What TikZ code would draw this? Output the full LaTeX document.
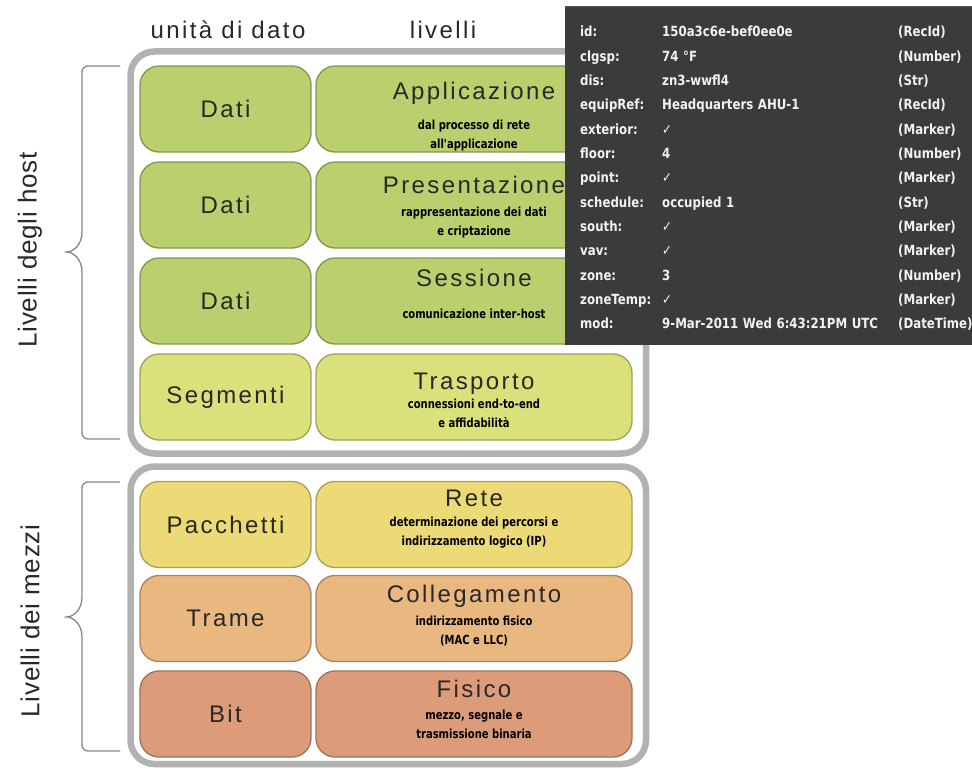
\documentclass[tikz,border=0pt]{standalone}
\usepackage{fontspec}
\setmainfont{Liberation Sans}
\newfontfamily\labelfont{Liberation Sans}[LetterSpace=10]
\newfontfamily\sidefont{Liberation Sans}[LetterSpace=3]
\newfontfamily\descfont{DejaVu Sans}[FakeStretch=0.8]
\newfontfamily\tipfont{DejaVu Sans}[FakeStretch=0.84]
\usepackage{xcolor}
\usepackage{tikz}
\usetikzlibrary{matrix}
\usetikzlibrary{positioning}

\definecolor{appgreen}{RGB}{186,207,110}
\definecolor{trgreen}{RGB}{219,225,122}
\definecolor{reteyellow}{RGB}{236,218,118}
\definecolor{collorange}{RGB}{233,183,128}
\definecolor{fisorange}{RGB}{221,156,121}
\definecolor{framegray}{RGB}{178,178,178}
\definecolor{bracegray}{RGB}{135,135,135}
\definecolor{inkgray}{RGB}{40,40,40}
\definecolor{tipbg}{RGB}{59,59,59}
\definecolor{tiptext}{RGB}{242,242,242}

\begin{document}
\begin{tikzpicture}[x=1pt,y=-1pt,
  layerframe/.style={draw=framegray,line width=6.5pt,rounded corners=24pt,fill=white},
  unitbox/.style={draw=#1!72!black,fill=#1,line width=1.3pt,rounded corners=19pt,
    minimum width=171pt,minimum height=86pt,inner sep=0pt,text=inkgray,
    font=\labelfont\fontsize{24}{28}\selectfont},
  layerbox/.style={unitbox=#1,minimum width=316pt},
  title/.style={inner sep=0pt,text height=17pt,text depth=5pt,text=inkgray,
    font=\labelfont\fontsize{24}{28}\selectfont},
  desc/.style={inner sep=0pt,align=center,text=black,
    font=\descfont\bfseries\fontsize{12.5}{19}\selectfont},
  header/.style={text=inkgray,font=\labelfont\fontsize{24}{28}\selectfont},
  sidelabel/.style={rotate=90,text=inkgray,font=\sidefont\fontsize{26}{30}\selectfont},
  bracket/.style={draw=bracegray,line width=1.3pt,rounded corners=6pt}]
\useasboundingbox (0,0) rectangle (972,773);

\node [header] (hUnit) at (228,30) {unità di dato};
\node [header] (hLiv) at (443,30) {livelli};

% cornici
\draw [layerframe] (130.5,51.5) rectangle (646,453.5);
\draw [layerframe] (130.5,466.5) rectangle (646,764);

% parentesi
\draw [bracket] (120,66) -- (82,66) -- (82,226) .. controls (82,246) and (72,252) .. (61,252)
  .. controls (72,252) and (82,258) .. (82,278) -- (82,439) -- (120,439);
\draw [bracket] (120,482) -- (82,482) -- (82,591) .. controls (82,611) and (72,617) .. (61,617)
  .. controls (72,617) and (82,623) .. (82,643) -- (82,751) -- (120,751);
\node [sidelabel] (sHost) at (30,250) {Livelli degli host};
\node [sidelabel] (sMezzi) at (30,621) {Livelli dei mezzi};

% livelli degli host
\node [unitbox=appgreen] (uApp) at (225.5,109) {Dati};
\node [layerbox=appgreen] (lApp) at (474,109) {};
\node [title, below=17pt of lApp.north] (tApp) {Applicazione};
\node [desc, below=15pt of tApp] (dApp) {dal processo di rete\\all'applicazione};

\node [unitbox=appgreen] (uPres) at (225.5,205) {Dati};
\node [layerbox=appgreen] (lPres) at (474,205) {};
\node [title, below=15pt of lPres.north] (tPres) {Presentazione};
\node [desc, below=8pt of tPres] (dPres) {rappresentazione dei dati\\e criptazione};

\node [unitbox=appgreen] (uSess) at (225.5,301) {Dati};
\node [layerbox=appgreen] (lSess) at (474,301) {};
\node [title, below=12pt of lSess.north] (tSess) {Sessione};
\node [desc, below=17pt of tSess] (dSess) {comunicazione inter-host};

\node [unitbox=trgreen] (uTr) at (225.5,397) {Segmenti};
\node [layerbox=trgreen] (lTr) at (474,397) {};
\node [title, below=19pt of lTr.north] (tTr) {Trasporto};
\node [desc, below=4pt of tTr] (dTr) {connessioni end-to-end\\e affidabilità};

% livelli dei mezzi
\node [unitbox=reteyellow] (uRete) at (225.5,524.5) {Pacchetti};
\node [layerbox=reteyellow] (lRete) at (474,524.5) {};
\node [title, below=8pt of lRete.north] (tRete) {Rete};
\node [desc, below=6pt of tRete] (dRete) {determinazione dei percorsi e\\indirizzamento logico (IP)};

\node [unitbox=collorange] (uColl) at (225.5,618.5) {Trame};
\node [layerbox=collorange] (lColl) at (474,618.5) {};
\node [title, below=10pt of lColl.north] (tColl) {Collegamento};
\node [desc, below=9pt of tColl] (dColl) {indirizzamento fisico\\(MAC e LLC)};

\node [unitbox=fisorange] (uFis) at (225.5,714) {Bit};
\node [layerbox=fisorange] (lFis) at (474,714) {};
\node [title, below=10pt of lFis.north] (tFis) {Fisico};
\node [desc, below=7pt of tFis] (dFis) {mezzo, segnale e\\trasmissione binaria};

% finestra dei tag
\fill [tipbg] (565,6) rectangle (972,345);
\draw [gray!70!black,line width=0.8pt] (565,6.4) -- (972,6.4);
\matrix [matrix of nodes,anchor=north west,inner sep=0pt,row sep=10.83pt,column sep=0pt,
  nodes={inner sep=0pt,text height=10.5pt,text depth=3pt,align=left,text=tiptext,
    font=\tipfont\bfseries\fontsize{14}{16}\selectfont},
  column 1/.style={nodes={text width=82pt}},
  column 2/.style={nodes={text width=236pt}},
  column 3/.style={nodes={text width=72pt}}] (tip) at (580,26.2) {
id: & 150a3c6e-bef0ee0e & (RecId) \\
clgsp: & 74 °F & (Number) \\
dis: & zn3-wwfl4 & (Str) \\
equipRef: & Headquarters AHU-1 & (RecId) \\
exterior: & ✓ & (Marker) \\
floor: & 4 & (Number) \\
point: & ✓ & (Marker) \\
schedule: & occupied 1 & (Str) \\
south: & ✓ & (Marker) \\
vav: & ✓ & (Marker) \\
zone: & 3 & (Number) \\
zoneTemp: & ✓ & (Marker) \\
mod: & 9-Mar-2011 Wed 6:43:21PM UTC & (DateTime) \\
};
\end{tikzpicture}
\end{document}
